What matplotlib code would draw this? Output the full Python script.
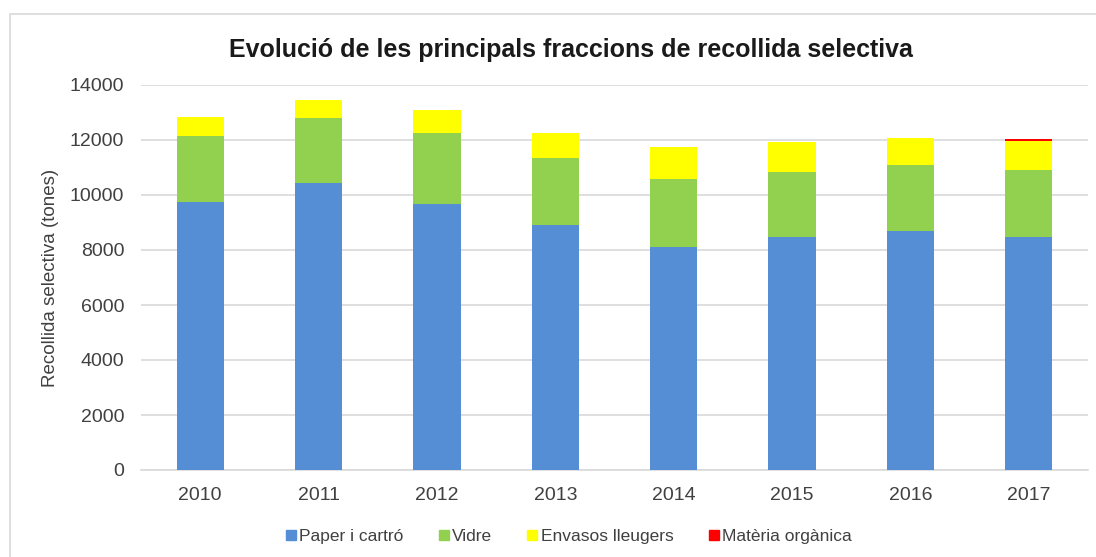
import matplotlib
matplotlib.use("Agg")
import matplotlib.pyplot as plt
from matplotlib.patches import Rectangle
from matplotlib.lines import Line2D
import numpy as np

plt.rcParams['font.family'] = ['Liberation Sans', 'DejaVu Sans']

years = ["2010", "2011", "2012", "2013", "2014", "2015", "2016", "2017"]
paper = [9760, 10425, 9660, 8910, 8100, 8460, 8700, 8485]
vidre = [2400, 2365, 2580, 2420, 2480, 2365, 2390, 2425]
envasos = [670, 660, 850, 940, 1180, 1115, 1000, 1050]
organica = [0, 0, 0, 0, 0, 0, 0, 90]

series_names = ["Paper i cartró", "Vidre", "Envasos lleugers", "Matèria orgànica"]
colors = ["#558ED5", "#92D050", "#FFFF00", "#FF0000"]

W, H = 1096, 557
fig = plt.figure(figsize=(W / 100, H / 100), dpi=100)
fig.patches.append(Rectangle((10 / W, -0.2), 1.2, 1.2 - 14 / H, transform=fig.transFigure,
                             fill=False, edgecolor="#d9d9d9", linewidth=1.2, zorder=0))

ax = fig.add_axes([141 / W, 1 - 470 / H, (1088 - 141) / W, (470 - 85) / H])
x = np.arange(len(years))
bottom = np.zeros(len(years))
for vals, name, c in zip([paper, vidre, envasos, organica], series_names, colors):
    ax.bar(x, vals, width=0.4, bottom=bottom, color=c, label=name, zorder=3)
    bottom += np.array(vals)

ax.set_xlim(-0.5, len(years) - 0.5)
ax.set_ylim(0, 14000)
ax.set_yticks(np.arange(0, 14001, 2000))
ax.set_xticks(x)
ax.set_xticklabels(years)
ax.grid(axis="y", color="#d9d9d9", linewidth=1.2, zorder=0)
for s in ["top", "right", "left"]:
    ax.spines[s].set_visible(False)
ax.spines["bottom"].set_color("#d9d9d9")
ax.spines["bottom"].set_linewidth(1.2)
ax.tick_params(axis="both", length=0, labelsize=14, colors="#404040")
ax.tick_params(axis="y", pad=12)
ax.tick_params(axis="x", pad=12)
ax.set_ylabel("Recollida selectiva (tones)", fontsize=13.5, color="#404040", labelpad=8)

fig.text(571 / W, 1 - 50 / H, "Evolució de les principals fraccions de recollida selectiva",
         ha="center", va="center", fontsize=18, fontweight="bold", color="#1a1a1a")

leg_handles = [Line2D([], [], marker="s", linestyle="none", markersize=7,
                      markerfacecolor=c, markeredgecolor=c) for c in colors]
fig.legend(leg_handles, series_names, loc="center", bbox_to_anchor=(568 / W, 1 - 536 / H),
           ncol=4, frameon=False, fontsize=12.5, handletextpad=0.1, columnspacing=1.9,
           handlelength=0.8, labelcolor="#404040")

fig.savefig("out.png", dpi=100)
